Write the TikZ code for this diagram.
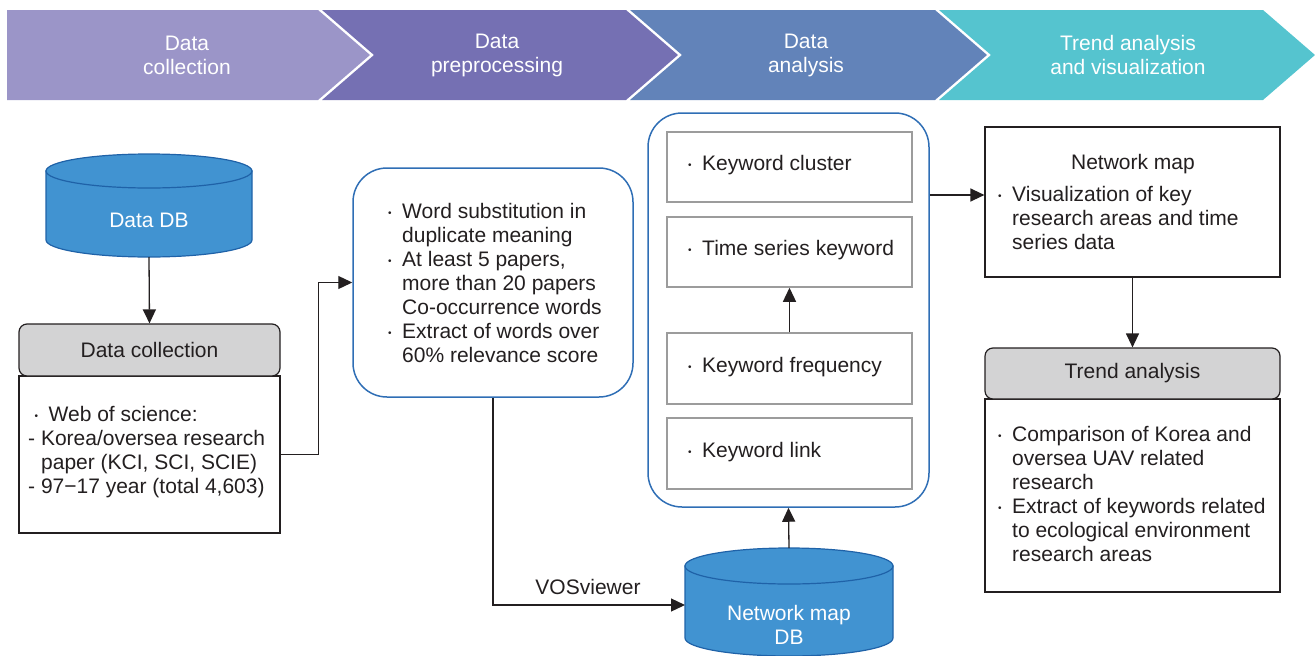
\documentclass[tikz,border=0pt]{standalone}
\usepackage{fontspec}
\setmainfont{Liberation Sans}
\usetikzlibrary{arrows.meta}
\definecolor{c1}{HTML}{9B95C8}
\definecolor{c2}{HTML}{7570B3}
\definecolor{c3}{HTML}{6283B9}
\definecolor{c4}{HTML}{55C4CF}
\definecolor{dbf}{HTML}{4193D1}
\definecolor{dbd}{HTML}{1F62A8}
\definecolor{bl}{HTML}{2F6EB5}
\definecolor{hg}{HTML}{D3D3D4}
\definecolor{tx}{HTML}{231F20}
\definecolor{ig}{HTML}{9C9C9C}
\newcommand\bu{\makebox[15pt][l]{\hspace{1pt}\raisebox{1.8pt}{\fontsize{10}{10}\selectfont •}}}
\newcommand\ii{\hspace*{15pt}}
\begin{document}
\begin{tikzpicture}[x=1pt,y=-1pt,font=\fontsize{21}{24}\selectfont,text=tx,
  arr/.style={draw=tx,line width=1.3pt,-{Triangle[length=14pt,width=13pt]}},
  chev/.style={text=white,align=center,inner sep=0pt},
  lbl/.style={align=left,anchor=west,inner sep=0pt},
  hdr/.style={draw=tx,fill=hg,rounded corners=8pt,line width=1.2pt,inner sep=0pt},
  body/.style={draw=tx,line width=1.2pt,inner sep=0pt,fill=white},
  rbox/.style={draw=bl,line width=1.5pt,rounded corners=34pt,inner sep=0pt},
  ibox/.style={draw=ig,line width=1.5pt,minimum width=245pt,inner sep=0pt},
  ghost/.style={inner sep=0pt,outer sep=0pt},
  dbshape/.style={fill=dbf,draw=dbd,line width=1.2pt},
  wtext/.style={text=white,align=center,inner sep=0pt}]
\useasboundingbox (0,0) rectangle (1315,656);
% chevrons
\fill[c1] (7,10) -- (318,10) -- (370,55) -- (318,100) -- (7,100) -- cycle;
\fill[c2] (322,10) -- (626,10) -- (678,55) -- (626,100) -- (322,100) -- (374,55) -- cycle;
\fill[c3] (630,10) -- (935,10) -- (987,55) -- (935,100) -- (630,100) -- (682,55) -- cycle;
\fill[c4] (939,10) -- (1263,10) -- (1315,55) -- (1263,100) -- (939,100) -- (991,55) -- cycle;
\node[chev] (h1) at (187,55) {Data\\collection};
\node[chev] (h2) at (497,55) {Data\\preprocessing};
\node[chev] (h3) at (806,55) {Data\\analysis};
\node[chev] (h4) at (1128,55) {Trend analysis\\and visualization};
% Data DB cylinder
\path[dbshape] (46,171) -- (46,240) arc[start angle=180,end angle=360,x radius=103pt,y radius=17pt] -- (252,171) -- cycle;
\path[dbshape] (149,171) ellipse[x radius=103pt,y radius=17pt];
\node[ghost,minimum width=206pt,minimum height=103pt] (dbA) at (149,205.5) {};
\node[wtext] (dbAt) at (149,220) {Data DB};
% Data collection
\node[body,minimum width=261pt,minimum height=157pt] (dcb) at (149.5,454.5) {};
\node[hdr,minimum width=261pt,minimum height=52pt] (dch) at (149.5,350) {Data collection};
\node[lbl] (dcbt) at (28,452) {\hspace*{5.5pt}\bu Web of science:\\- Korea/oversea research\\\hspace*{13pt}paper (KCI, SCI, SCIE)\\- 97−17 year (total 4,603)};
% preprocessing box
\node[rbox,minimum width=280pt,minimum height=229pt] (mid) at (493,282.5) {};
\node[lbl] (midt) at (387,282.5) {\bu Word substitution in\\\ii duplicate meaning\\\bu At least 5 papers,\\\ii more than 20 papers\\\ii Co-occurrence words\\\bu Extract of words over\\\ii 60\% relevance score};
% analysis box
\node[rbox,minimum width=281pt,minimum height=394pt] (big) at (788.5,310) {};
\node[ibox,minimum height=70pt] (fb1) at (789.5,167) {};
\node[ibox,minimum height=70pt] (fb2) at (789.5,252) {};
\node[ibox,minimum height=71pt] (fb3) at (789.5,368.5) {};
\node[ibox,minimum height=71pt] (fb4) at (789.5,453.5) {};
\node[lbl] (fb1t) at (687,165) {\bu Keyword cluster};
\node[lbl] (fb2t) at (687,250) {\bu Time series keyword};
\node[lbl] (fb3t) at (687,367) {\bu Keyword frequency};
\node[lbl] (fb4t) at (687,452) {\bu Keyword link};
% Network map DB cylinder
\path[dbshape] (685,566) -- (685,638) arc[start angle=180,end angle=360,x radius=104pt,y radius=18pt] -- (893,566) -- cycle;
\path[dbshape] (789,566) ellipse[x radius=104pt,y radius=18pt];
\node[ghost,minimum width=208pt,minimum height=114pt] (ndb) at (789,605) {};
\node[wtext] (ndbt) at (789,625) {Network map\\DB};
% Network map box
\node[body,minimum width=295pt,minimum height=150pt] (net) at (1132.5,202) {};
\node[inner sep=0pt] (nett) at (1133,164) {Network map};
\node[lbl] (netb) at (997,218) {\bu Visualization of key\\\ii research areas and time\\\ii series data};
% Trend analysis
\node[body,minimum width=295pt,minimum height=193pt] (tab) at (1132.5,495.5) {};
\node[hdr,minimum width=295pt,minimum height=51pt] (tah) at (1132.5,373.5) {Trend analysis};
\node[lbl] (tabt) at (997,494) {\bu Comparison of Korea and\\\ii oversea UAV related\\\ii research\\\bu Extract of keywords related\\\ii to ecological environment\\\ii research areas};
% connectors
\draw[arr] (dbA.south) -- (dch.north);
\draw[arr] (dcb.east) -- ++(38,0) |- (mid.west);
\draw[arr] (mid.south) |- (ndb.west);
\node[inner sep=0pt] (vos) at (588,587) {VOSviewer};
\draw[arr] (ndb.north) -- (big.south);
\draw[arr] (fb3.north) -- (fb2.south);
\draw[arr] (big.east |- 0,195) -- (net.west |- 0,195);
\draw[arr] (net.south) -- (tah.north);
\end{tikzpicture}
\end{document}
